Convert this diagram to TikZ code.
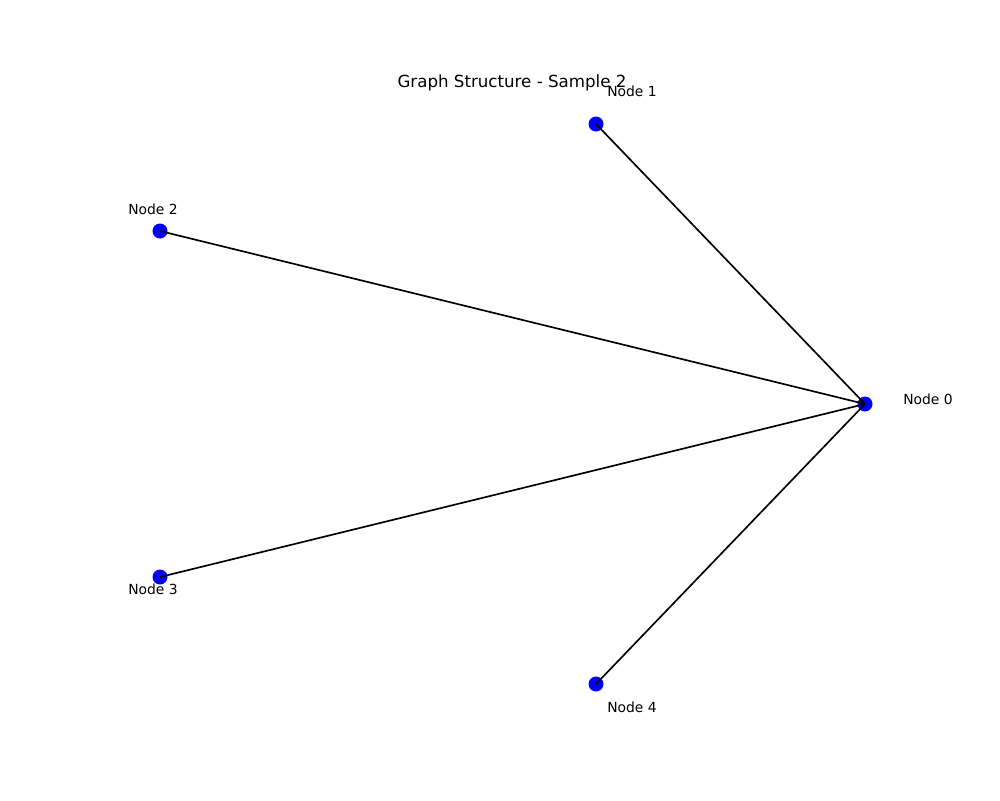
\documentclass[tikz,border=0pt]{standalone}
\usepackage{fontspec}
\setmainfont{DejaVu Sans}
\begin{document}
\begin{tikzpicture}[x=0.72pt,y=-0.72pt,
  dot/.style={circle,fill=blue,draw=none,minimum size=10.8pt,inner sep=0pt},
  lbl/.style={font=\fontsize{10}{12}\selectfont,inner sep=0pt,anchor=center},
  edge/.style={draw=black,line width=1.2pt}]
\useasboundingbox (0,0) rectangle (1000,800);
\node[lbl,font=\fontsize{12}{14}\selectfont] (title) at (512,83) {Graph Structure - Sample 2};
\node[dot] (n0) at (865,404) {};
\node[dot] (n1) at (596,124) {};
\node[dot] (n2) at (160,231) {};
\node[dot] (n3) at (160,577) {};
\node[dot] (n4) at (596,684) {};
\draw[edge] (n0.center) -- (n1.center);
\draw[edge] (n0.center) -- (n2.center);
\draw[edge] (n0.center) -- (n3.center);
\draw[edge] (n0.center) -- (n4.center);
\node[lbl] (l0) at (928,399) {Node 0};
\node[lbl] (l1) at (632,91) {Node 1};
\node[lbl] (l2) at (153,209) {Node 2};
\node[lbl] (l3) at (153,589) {Node 3};
\node[lbl] (l4) at (632,707) {Node 4};
\end{tikzpicture}
\end{document}
